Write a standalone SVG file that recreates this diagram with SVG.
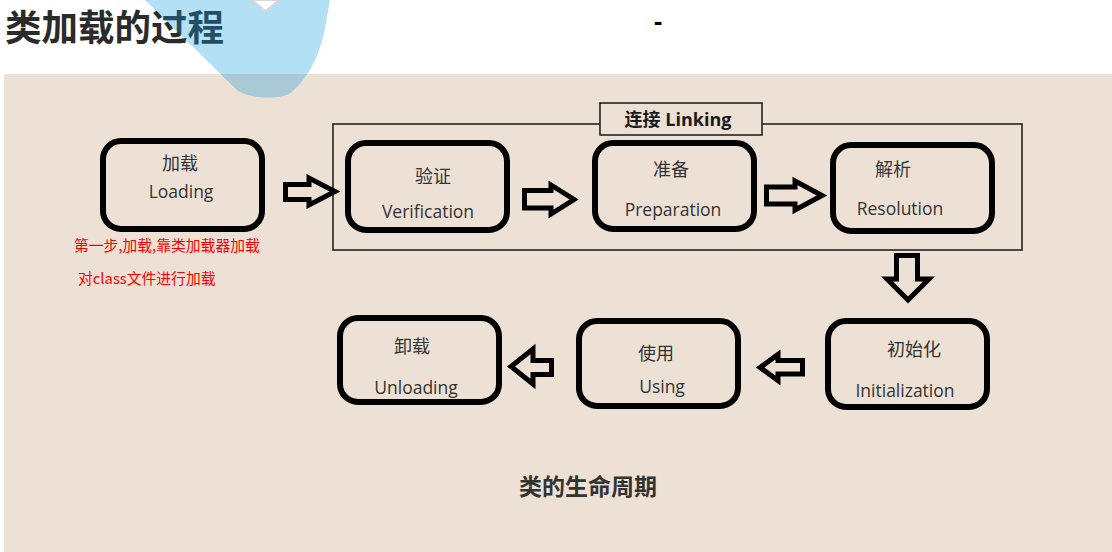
<svg xmlns="http://www.w3.org/2000/svg" width="1112" height="552" viewBox="0 0 1112 552">
<style>
  .box { fill: none; stroke: #000; stroke-width: 6; }
  .arrow { fill: none; stroke: #000; stroke-width: 5; stroke-linejoin: miter; }
  .cn { font-family: "Noto Sans CJK SC", sans-serif; font-size: 18px; fill: #333; text-anchor: middle; }
  .en { font-family: "Open Sans", "Noto Sans", sans-serif; font-size: 17.5px; fill: #333; text-anchor: middle; }
  .red { font-family: "Noto Sans CJK SC", sans-serif; font-size: 14.8px; fill: #ff0000; }
</style>
<defs>
  <linearGradient id="titleFill" gradientUnits="userSpaceOnUse" x1="144.3" y1="0.72" x2="145.7" y2="-0.72">
    <stop offset="0.5" stop-color="#2b2b2b"/>
    <stop offset="0.5" stop-color="#224e66"/>
  </linearGradient>
  <clipPath id="panelClip"><rect x="4" y="74" width="1108" height="478"/></clipPath>
</defs>
<rect x="0" y="0" width="1112" height="552" fill="#ffffff"/>
<rect x="4" y="74" width="1108" height="478" fill="#ede1d6"/>
<g id="decor">
  <path id="blueShape" d="M145,0 L238,91 C250,98 276,100 289,94 C305,82 318,60 324,33 L330,0 Z" fill="#b3e0f4"/>
  <path d="M145,0 L238,91 C250,98 276,100 289,94 C305,82 318,60 324,33 L330,0 Z" fill="#a9c9d6" clip-path="url(#panelClip)"/>
  <polygon points="252,0 279,0 265.5,11" fill="#ffffff" stroke="#d8d8d8" stroke-width="2"/>
</g>
<text x="5" y="41" font-family="Noto Sans CJK SC, sans-serif" font-size="36.5" font-weight="bold" fill="url(#titleFill)">类加载的过程</text>
<text x="658" y="30" font-family="Liberation Sans, sans-serif" font-size="26" font-weight="bold" fill="#000" text-anchor="middle">-</text>

<g id="linking">
  <rect x="333" y="124" width="689" height="126" fill="none" stroke="#222" stroke-width="1.6"/>
  <rect x="600" y="103" width="162" height="32" fill="#ede1d6" stroke="#222" stroke-width="1.6"/>
  <text x="678" y="126" font-family="Open Sans, Noto Sans CJK SC, sans-serif" font-size="18" font-weight="bold" fill="#1a1a1a" text-anchor="middle">连接 Linking</text>
</g>

<g id="connectors">
  <polygon class="arrow" points="285.5,184.5 309,184.5 309,178 335,191.5 309,205 309,199.5 285.5,199.5"/>
  <polygon class="arrow" points="524.5,190.5 551,190.5 551,185 574,199.5 551,214 551,208 524.5,208"/>
  <polygon class="arrow" points="766.5,187 795,187 795,181 822,195.5 795,210 795,204 766.5,204"/>
  <polygon class="arrow" points="896.5,255.5 917.5,255.5 917.5,279 929,279 908,300 887,279 896.5,279"/>
  <polygon class="arrow" points="802.5,360.5 778,360.5 778,354.5 760,367.5 778,380.5 778,374 802.5,374"/>
  <polygon class="arrow" points="551.5,360.5 533,360.5 533,349 511,366.5 533,384 533,374.5 551.5,374.5"/>
</g>

<g id="loading">
  <rect class="box" x="103" y="141" width="159" height="88" rx="18"/>
  <text class="cn" x="180" y="170">加载</text>
  <text class="en" x="181" y="198">Loading</text>
</g>
<g id="verification">
  <rect class="box" x="348" y="143" width="159" height="87" rx="18"/>
  <text class="cn" x="433" y="183">验证</text>
  <text class="en" x="428" y="218">Verification</text>
</g>
<g id="preparation">
  <rect class="box" x="595" y="143" width="159" height="86" rx="18"/>
  <text class="cn" x="671" y="176">准备</text>
  <text class="en" x="673" y="216">Preparation</text>
</g>
<g id="resolution">
  <rect class="box" x="833" y="145" width="159" height="86" rx="18"/>
  <text class="cn" x="893" y="176">解析</text>
  <text class="en" x="900" y="215">Resolution</text>
</g>
<g id="initialization">
  <rect class="box" x="828" y="321" width="159" height="86" rx="18"/>
  <text class="cn" x="914" y="356">初始化</text>
  <text class="en" x="905" y="397">Initialization</text>
</g>
<g id="using">
  <rect class="box" x="579" y="321" width="159" height="85" rx="18"/>
  <text class="cn" x="656" y="360">使用</text>
  <text class="en" x="662" y="393">Using</text>
</g>
<g id="unloading">
  <rect class="box" x="340" y="318" width="159" height="84" rx="18"/>
  <text class="cn" x="412" y="353">卸载</text>
  <text class="en" x="416" y="394">Unloading</text>
</g>

<g id="notes">
  <text class="red" x="74" y="251">第一步,加载,靠类加载器加载</text>
  <text class="red" x="78" y="284">对class文件进行加载</text>
</g>
<text x="588" y="495" font-family="Noto Sans CJK SC, sans-serif" font-size="23" font-weight="bold" fill="#333" text-anchor="middle">类的生命周期</text>
</svg>
